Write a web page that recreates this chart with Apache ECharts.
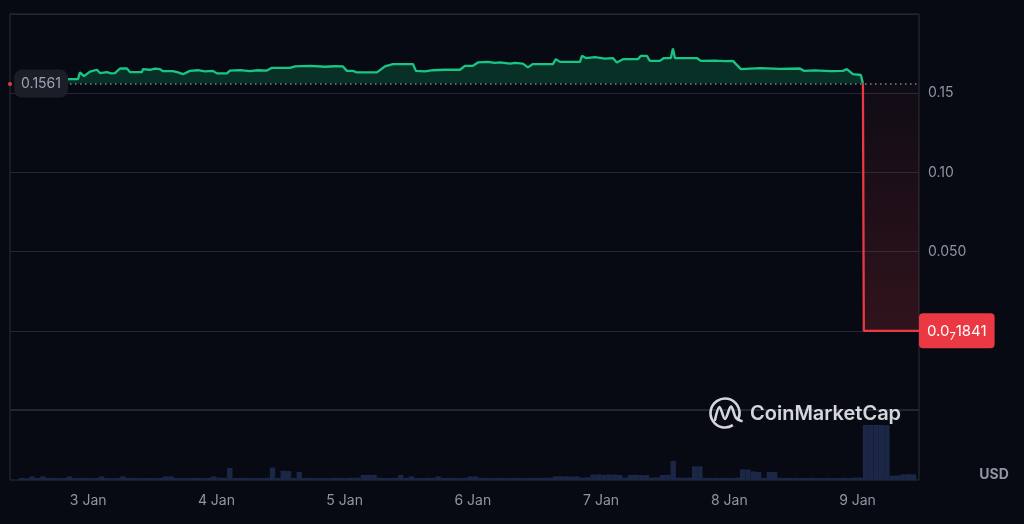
<!DOCTYPE html>
<html>
<head>
<meta charset="utf-8">
<script src="https://cdn.jsdelivr.net/npm/echarts@6/dist/echarts.min.js"></script>
<style>
html,body{margin:0;padding:0;background:#070a13;}
#chart{width:1024px;height:524px;}
</style>
</head>
<body>
<div id="chart"></div>
<script>
// ---------- data ----------
const axisStart = '2025-01-02 09:52';
const axisEnd = '2025-01-09 11:00';
const refPrice = 0.1561;
const lastPrice = 0.00000001841;

const priceTimes = [
  '2025-01-02 20:40','2025-01-02 22:31','2025-01-02 22:53','2025-01-02 23:38',
  '2025-01-03 00:45','2025-01-03 02:03','2025-01-03 02:36','2025-01-03 03:55',
  '2025-01-03 04:39','2025-01-03 05:24','2025-01-03 06:20','2025-01-03 07:38',
  '2025-01-03 08:11','2025-01-03 10:25','2025-01-03 10:36','2025-01-03 11:55',
  '2025-01-03 12:50','2025-01-03 13:46','2025-01-03 14:20','2025-01-03 16:11',
  '2025-01-03 17:07','2025-01-03 18:03','2025-01-03 19:21','2025-01-03 20:50',
  '2025-01-03 22:08','2025-01-03 23:38','2025-01-04 00:22','2025-01-04 02:14',
  '2025-01-04 02:47','2025-01-04 04:39','2025-01-04 06:31','2025-01-04 08:00',
  '2025-01-04 09:40','2025-01-04 10:36','2025-01-04 13:57','2025-01-04 14:53',
  '2025-01-04 17:41','2025-01-04 20:28','2025-01-04 22:20','2025-01-04 23:49',
  '2025-01-05 00:33','2025-01-05 01:40','2025-01-05 02:25','2025-01-05 06:08',
  '2025-01-05 07:38','2025-01-05 09:07','2025-01-05 12:50','2025-01-05 13:24',
  '2025-01-05 15:04','2025-01-05 16:34','2025-01-05 18:48','2025-01-05 21:35',
  '2025-01-05 22:31','2025-01-06 00:00','2025-01-06 00:56','2025-01-06 02:47',
  '2025-01-06 04:06','2025-01-06 05:01','2025-01-06 06:53','2025-01-06 07:49',
  '2025-01-06 09:18','2025-01-06 10:14','2025-01-06 11:10','2025-01-06 14:53',
  '2025-01-06 15:26','2025-01-06 16:11','2025-01-06 19:55','2025-01-06 20:17',
  '2025-01-06 21:01','2025-01-06 22:42','2025-01-07 00:34','2025-01-07 02:03',
  '2025-01-07 02:47','2025-01-07 03:55','2025-01-07 06:42','2025-01-07 07:16',
  '2025-01-07 08:22','2025-01-07 08:56','2025-01-07 10:47','2025-01-07 11:32',
  '2025-01-07 12:50','2025-01-07 13:13','2025-01-07 13:35','2025-01-07 17:40',
  '2025-01-07 18:25','2025-01-07 21:01','2025-01-07 22:53','2025-01-08 00:22',
  '2025-01-08 01:52','2025-01-08 05:24','2025-01-08 09:07','2025-01-08 12:50',
  '2025-01-08 13:35','2025-01-08 15:38','2025-01-08 18:25','2025-01-08 20:50',
  '2025-01-08 21:35','2025-01-08 22:42','2025-01-09 00:11','2025-01-09 00:34'
];
const priceValues = [
  0.1589,0.1589,0.1631,0.1608,
  0.1636,0.1648,0.1627,0.1633,
  0.1625,0.1627,0.1656,0.1656,
  0.1633,0.1633,0.1652,0.1648,
  0.1655,0.1652,0.1639,0.1639,
  0.1631,0.1620,0.1641,0.1645,
  0.1638,0.1641,0.1625,0.1625,
  0.1643,0.1646,0.1640,0.1645,
  0.1643,0.1660,0.1660,0.1669,
  0.1672,0.1667,0.1670,0.1669,
  0.1641,0.1641,0.1631,0.1631,
  0.1669,0.1684,0.1684,0.1641,
  0.1638,0.1645,0.1648,0.1648,
  0.1673,0.1673,0.1694,0.1698,
  0.1691,0.1694,0.1687,0.1692,
  0.1687,0.1663,0.1684,0.1684,
  0.1715,0.1698,0.1698,0.1736,
  0.1722,0.1728,0.1718,0.1722,
  0.1694,0.1715,0.1715,0.1736,
  0.1736,0.1704,0.1704,0.1722,
  0.1722,0.1783,0.1722,0.1722,
  0.1704,0.1706,0.1702,0.1704,
  0.1652,0.1658,0.1654,0.1656,
  0.1641,0.1644,0.1639,0.1641,
  0.1652,0.1620,0.1615,0.1561
];

const dropTimes = ['2025-01-09 00:34','2025-01-09 00:44','2025-01-09 11:00'];
const dropValues = [0.1561, 0.00000001841, 0.00000001841];

// hourly volume (USD millions), first bar at volumeStart
const volumeStart = '2025-01-02 11:30';
const volumeValues = [
  // 2 Jan
  0.10,0.09,0.18,0.10,0.18,0.11,0.10,0.09,0.10,0.18,0.10,0.11,0.10,
  // 3 Jan
  0.10,0.11,0.18,0.10,0.09,0.10,0.18,0.10,0.11,0.10,0.09,0.10,
  0.10,0.11,0.18,0.18,0.10,0.09,0.10,0.11,0.10,0.10,0.11,0.18,
  // 4 Jan
  0.12,0.11,0.60,0.10,0.10,0.11,0.10,0.09,0.10,0.11,0.62,0.10,
  0.46,0.45,0.10,0.40,0.10,0.11,0.10,0.09,0.10,0.10,0.11,0.10,
  // 5 Jan
  0.10,0.11,0.12,0.25,0.26,0.25,0.11,0.10,0.10,0.11,0.25,0.11,
  0.18,0.10,0.10,0.11,0.10,0.18,0.10,0.11,0.10,0.10,0.11,0.18,
  // 6 Jan
  0.18,0.10,0.11,0.10,0.10,0.11,0.10,0.10,0.11,0.10,0.10,0.11,
  0.10,0.12,0.11,0.18,0.19,0.18,0.17,0.18,0.12,0.14,0.27,0.28,
  // 7 Jan
  0.26,0.28,0.27,0.25,0.12,0.25,0.26,0.25,0.24,0.12,0.13,0.25,
  0.26,0.95,0.12,0.11,0.12,0.68,0.68,0.11,0.10,0.11,0.10,0.11,
  // 8 Jan
  0.10,0.12,0.53,0.53,0.43,0.40,0.11,0.40,0.40,0.11,0.10,0.10,
  0.11,0.10,0.10,0.11,0.10,0.10,0.11,0.10,0.10,0.11,0.10,0.12,
  // 9 Jan
  0.13,2.75,2.76,2.75,2.75,2.74,0.22,0.23,0.28,0.29,0.28
];

const dayNumbers = [3,4,5,6,7,8,9];
const dayLabels = ['3 Jan','4 Jan','5 Jan','6 Jan','7 Jan','8 Jan','9 Jan'];
const priceTickValues = [0.05, 0.10, 0.15];
const priceTickLabels = ['0.050', '0.10', '0.15'];

// ---------- helpers ----------
function toTs(s) {
  const [d, t] = s.split(' ');
  const [y, m, dd] = d.split('-').map(Number);
  const [h, mi] = t.split(':').map(Number);
  return new Date(y, m - 1, dd, h, mi).getTime();
}
const HOUR = 3600000;
const priceData = priceTimes.map((t, i) => [toTs(t), priceValues[i]]);
const dropData = dropTimes.map((t, i) => [toTs(t), dropValues[i]]);
const v0 = toTs(volumeStart);
const volumeData = volumeValues.map((v, i) => [v0 + i * HOUR, v]);

const GREEN = '#16c784';
const RED = '#ea3943';
const GRID_LINE = '#24272f';
const LABEL = '#8e95a5';

const chart = echarts.init(document.getElementById('chart'), null, {renderer: 'canvas'});
chart.setOption({
  backgroundColor: '#070a13',
  animation: false,
  grid: [
    {left: 10, right: 105, top: 14, height: 396, show: true, borderColor: '#2b2e37', borderWidth: 1, backgroundColor: 'transparent'},
    {left: 10, right: 105, top: 410, bottom: 44, show: true, borderColor: '#2b2e37', borderWidth: 1, backgroundColor: 'transparent'}
  ],
  xAxis: [
    {type: 'time', gridIndex: 0, min: toTs(axisStart), max: toTs(axisEnd), show: false},
    {type: 'time', gridIndex: 1, min: toTs(axisStart), max: toTs(axisEnd),
     minInterval: 24 * HOUR, maxInterval: 24 * HOUR,
     axisLine: {show: false}, axisTick: {show: false}, splitLine: {show: false},
     axisLabel: {
       color: LABEL, fontSize: 14, margin: 14, fontFamily: 'Inter, sans-serif',
       showMinLabel: false, showMaxLabel: false,
       formatter: function (val) {
         const d = new Date(val);
         if (d.getHours() !== 0 || d.getMinutes() !== 0) return '';
         const k = dayNumbers.indexOf(d.getDate());
         return k >= 0 ? dayLabels[k] : '';
       }
     }}
  ],
  yAxis: [
    {type: 'value', gridIndex: 0, position: 'right', min: -0.05, max: 0.2, interval: 0.05,
     axisLine: {show: false}, axisTick: {show: false},
     splitLine: {show: true, lineStyle: {color: GRID_LINE, width: 1}},
     axisLabel: {
       color: LABEL, fontSize: 14, margin: 9, fontFamily: 'Inter, sans-serif',
       formatter: function (v) {
         for (let i = 0; i < priceTickValues.length; i++) {
           if (Math.abs(v - priceTickValues[i]) < 1e-9) return priceTickLabels[i];
         }
         return '';
       }
     }},
    {type: 'value', gridIndex: 1, min: 0, max: 3.5, show: false, splitLine: {show: false}}
  ],
  series: [
    {
      type: 'bar', xAxisIndex: 1, yAxisIndex: 1, data: volumeData,
      barCategoryGap: '0%', itemStyle: {color: '#1c2747'}, silent: true
    },
    {
      type: 'line', xAxisIndex: 0, yAxisIndex: 0, data: priceData,
      showSymbol: false, symbol: 'none',
      lineStyle: {color: GREEN, width: 2.3},
      areaStyle: {origin: refPrice, color: 'rgba(14,190,110,0.31)'},
      z: 3,
      markLine: {
        silent: true, symbol: 'none', animation: false, precision: 8,
        lineStyle: {color: '#7d8393', type: [1.5, 3.5], width: 1.5},
        label: {
          show: true, position: 'start', distance: -58,
          formatter: String(refPrice), color: '#9ca3b4', fontSize: 14,
          fontFamily: 'Inter, sans-serif',
          backgroundColor: '#1b1e27', borderRadius: 8, padding: [7, 7]
        },
        data: [{yAxis: refPrice}]
      }
    },
    {
      type: 'line', xAxisIndex: 0, yAxisIndex: 0, data: dropData,
      showSymbol: false, symbol: 'none',
      lineStyle: {color: RED, width: 2.3},
      areaStyle: {
        origin: refPrice,
        color: new echarts.graphic.LinearGradient(0, 0, 0, 1, [
          {offset: 0, color: 'rgba(234,57,67,0.05)'},
          {offset: 1, color: 'rgba(234,57,67,0.26)'}
        ])
      },
      z: 4,
      markLine: {
        silent: true, symbol: 'none', animation: false, precision: 14,
        lineStyle: {color: 'rgba(0,0,0,0)', width: 0, opacity: 0},
        label: {
          show: true, position: 'end', distance: 0, opacity: 1,
          formatter: '{a|0.0}{s|7}{a|1841}',
          backgroundColor: RED, borderRadius: 4, padding: [7, 8, 6, 8],
          rich: {
            a: {color: '#ffffff', fontSize: 15, lineHeight: 22, verticalAlign: 'middle', fontFamily: 'Inter, sans-serif'},
            s: {color: '#ffffff', fontSize: 11, lineHeight: 22, verticalAlign: 'bottom', fontFamily: 'Inter, sans-serif'}
          }
        },
        data: [{yAxis: lastPrice}]
      }
    }
  ],
  graphic: [
    {type: 'circle', z: 100, silent: true, shape: {cx: 10, cy: 84, r: 2}, style: {fill: RED}},
    {type: 'arc', z: 100, silent: true,
     shape: {cx: 725, cy: 413, r: 14.5, startAngle: 1.0, endAngle: 0.45 + Math.PI * 2, clockwise: true},
     style: {stroke: '#e6e8ee', lineWidth: 2.6, fill: null, opacity: 0.92}},
    {type: 'polyline', z: 100, silent: true,
     shape: {points: [[715, 420], [719.5, 407], [725, 419], [731, 406.5], [736, 418], [741.5, 421]], smooth: 0.35},
     style: {stroke: '#e6e8ee', lineWidth: 2.6, fill: null, opacity: 0.92, lineJoin: 'round', lineCap: 'round'}},
    {type: 'text', z: 100, silent: true, x: 750, y: 414,
     style: {text: 'CoinMarketCap', fill: '#e6e8ee', opacity: 0.92, font: '600 20px Inter, sans-serif', verticalAlign: 'middle', align: 'left'}},
    {type: 'text', z: 100, silent: true, x: 994, y: 475,
     style: {text: 'USD', fill: LABEL, font: 'bold 14px Inter, sans-serif', verticalAlign: 'middle', align: 'center'}}
  ]
});
</script>
</body>
</html>
